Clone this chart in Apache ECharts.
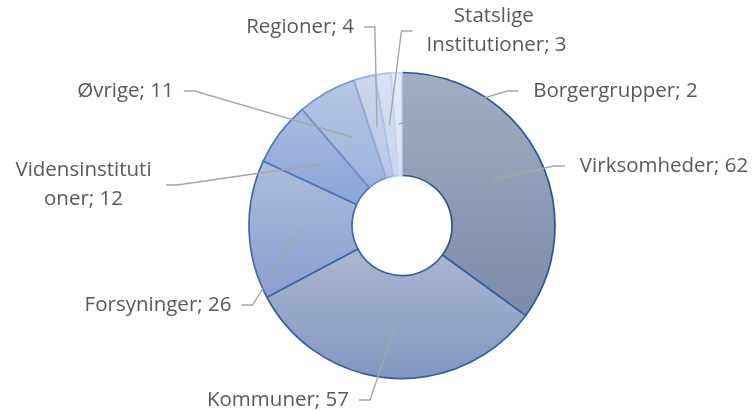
<!DOCTYPE html>
<html>
<head>
<meta charset="utf-8">
<script src="https://cdn.jsdelivr.net/npm/echarts@6/dist/echarts.min.js"></script>
<style>
html,body{margin:0;padding:0;background:#fff;}
#chart{width:754px;height:411px;}
</style>
</head>
<body>
<div id="chart"></div>
<script>
// ---- data ----
var categories = ['Virksomheder', 'Kommuner', 'Forsyninger', 'Vidensinstitutioner', 'Øvrige', 'Regioner', 'Statslige Institutioner', 'Borgergrupper'];
var values = [62, 57, 26, 12, 11, 4, 3, 2];

// ---- styles (not data) ----
var fillTop    = ['#a3adc3', '#aab7d3', '#acbcdc', '#a9bce1', '#b7c6e5', '#cdd7ed', '#d9e1f2', '#e5ebf6'];
var fillBottom = ['#7b8bab', '#8296bf', '#889fcf', '#88a4d7', '#9cb2dd', '#b9c7e5', '#c9d5ed', '#d7e0f2'];
var borderCols = ['#2f5592', '#3562a1', '#3c69ae', '#4a78bc', '#7191c9', '#93abd8', '#b0c2e4', '#c9d5ee'];
var labelPos = [[664,166],[278,400],[158,305],[83.5,185],[125.5,91],[300,27],[496.5,31],[615.4,91]];
var labelWrap = [null, null, null, {width:145, overflow:'breakAll'}, null, null, {width:150, overflow:'break'}, null];
var labelPad = [[0,15],[0,10],[0,10],[0,10],[0,10],[0,10],[0,9],[0,15]];

var CENTER = [402, 225.5];

var ringData = categories.map(function (c, i) {
  return {
    name: c, value: values[i],
    itemStyle: {
      color: {type:'linear', x:0, y:0, x2:0, y2:1, colorStops:[{offset:0,color:fillTop[i]},{offset:1,color:fillBottom[i]}]},
      borderColor: borderCols[i]
    }
  };
});
var labelData = categories.map(function (c, i) {
  var lbl = {padding: labelPad[i]};
  if (labelWrap[i]) { lbl.width = labelWrap[i].width; lbl.overflow = labelWrap[i].overflow; }
  return { name: c, value: values[i], label: lbl };
});

var chart = echarts.init(document.getElementById('chart'), null, {renderer:'canvas'});
chart.setOption({
  animation: false,
  backgroundColor: '#ffffff',
  series: [
    {
      type: 'pie',
      z: 2,
      center: CENTER,
      radius: [50, 153],
      startAngle: 90,
      clockwise: true,
      silent: true,
      label: {show: false},
      labelLine: {show: false},
      itemStyle: {borderWidth: 1.7},
      data: ringData
    },
    {
      type: 'pie',
      z: 6,
      center: CENTER,
      radius: [0, 101.5],
      startAngle: 90,
      clockwise: true,
      silent: true,
      avoidLabelOverlap: false,
      itemStyle: {color: 'rgba(0,0,0,0)', borderWidth: 0},
      label: {
        show: true,
        position: 'outside',
        formatter: function (p) { return p.name + '; ' + p.value; },
        fontFamily: 'Open Sans',
        fontSize: 20.5,
        lineHeight: 29,
        color: '#595959'
      },
      labelLine: {
        show: true,
        length: 10,
        length2: 11,
        minTurnAngle: 0,
        smooth: false,
        lineStyle: {color: '#a6a6a6', width: 1.4}
      },
      labelLayout: function (p) {
        var pos = labelPos[p.dataIndex];
        return {x: pos[0], y: pos[1], align: 'center', verticalAlign: 'middle'};
      },
      data: labelData
    }
  ]
});
</script>
</body>
</html>
